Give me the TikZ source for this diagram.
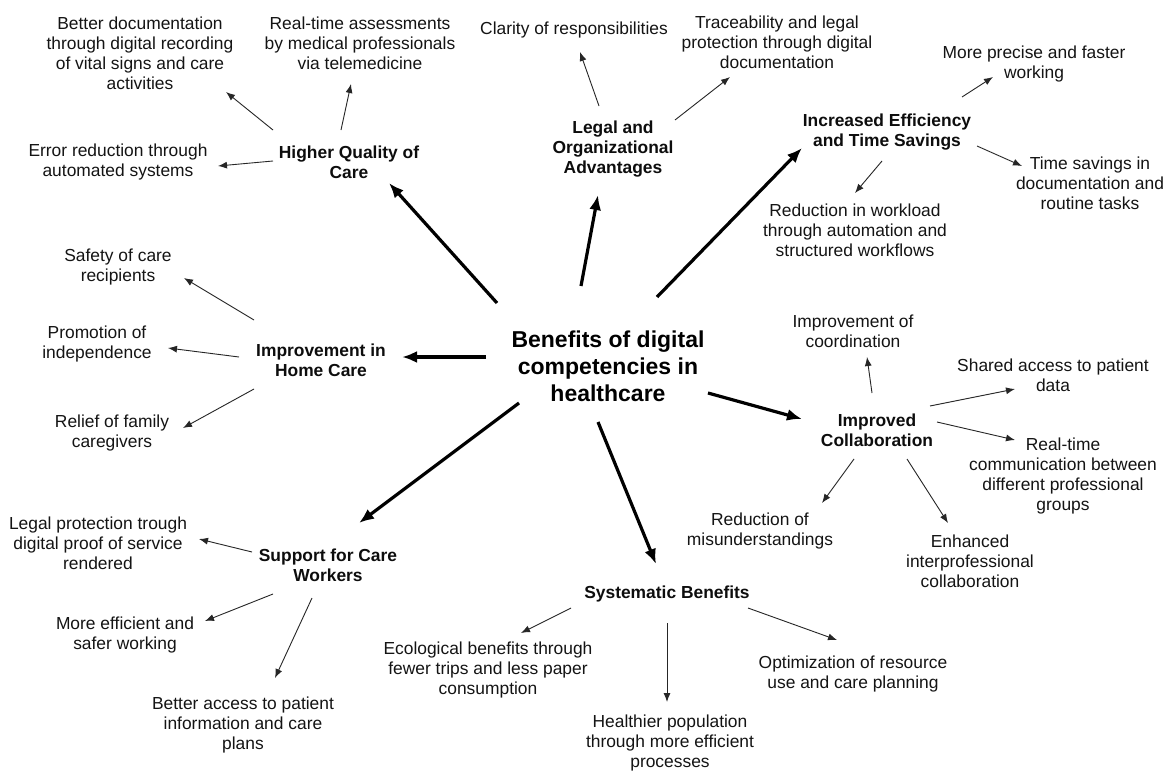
\documentclass[tikz,border=0pt]{standalone}
\usepackage{fontspec}
\setmainfont{Liberation Sans}
\usetikzlibrary{arrows.meta}
\begin{document}
\begin{tikzpicture}[x=1pt,y=-1pt,
  leaf/.style={font=\fontsize{17.4}{20}\selectfont, align=center, inner sep=0pt, text=black!92},
  cat/.style={font=\fontsize{17.4}{20}\selectfont\bfseries, align=center, inner sep=0pt, text=black!95},
  hub/.style={font=\fontsize{23}{27}\selectfont\bfseries, align=center, inner sep=0pt},
  thinarr/.style={line width=0.9pt, draw=black!85, -{Latex[length=9pt,width=7pt]}},
  thickarr/.style={line width=3.2pt, -{Latex[length=15pt,width=12pt]}}]
\useasboundingbox[fill=white] (0,0) rectangle (1171,771);

% hub
\node[hub] (C) at (608,366) {Benefits of digital\\competencies in\\healthcare};

% categories
\node[cat] (HQ) at (349,162) {Higher Quality of\\Care};
\node[cat] (LO) at (613,149) {Legal and\\Organizational\\Advantages};
\node[cat] (IE) at (887,132) {Increased Efficiency\\and Time Savings};
\node[cat] (HC) at (321,360) {Improvement in\\Home Care};
\node[cat] (IC) at (877,430) {Improved\\Collaboration};
\node[cat] (SW) at (328,565) {Support for Care\\Workers};
\node[cat] (SB) at (667,594) {Systematic Benefits};

% leaves
\node[leaf] (BD) at (140,53) {Better documentation\\through digital recording\\of vital signs and care\\activities};
\node[leaf] (RT) at (360,43) {Real-time assessments\\by medical professionals\\via telemedicine};
\node[leaf] (ER) at (118,162) {Error reduction through\\automated systems};
\node[leaf] (CR) at (574,30) {Clarity of responsibilities};
\node[leaf] (TR) at (777,42) {Traceability and legal\\protection through digital\\documentation};
\node[leaf] (MP) at (1034,64) {More precise and faster\\working};
\node[leaf] (TS) at (1090,183) {Time savings in\\documentation and\\routine tasks};
\node[leaf] (RW) at (855,230) {Reduction in workload\\through automation and\\structured workflows};
\node[leaf] (CO) at (853,331) {Improvement of\\coordination};
\node[leaf] (SA) at (1053,375) {Shared access to patient\\data};
\node[leaf] (RC) at (1063,476) {Real-time\\communication between\\different professional\\groups};
\node[leaf] (RM) at (760,531) {Reduction of\\misunderstandings};
\node[leaf] (EN) at (970,561) {Enhanced\\interprofessional\\collaboration};
\node[leaf] (EC) at (488,670) {Ecological benefits through\\fewer trips and less paper\\consumption};
\node[leaf] (HP) at (670,743) {Healthier population\\through more efficient\\processes};
\node[leaf] (OP) at (853,674) {Optimization of resource\\use and care planning};
\node[leaf] (LP) at (98,543) {Legal protection trough\\digital proof of service\\rendered};
\node[leaf] (ME) at (125,635) {More efficient and\\safer working};
\node[leaf] (BA) at (243,725) {Better access to patient\\information and care\\plans};
\node[leaf] (SF) at (118,267) {Safety of care\\recipients};
\node[leaf] (PI) at (97,344) {Promotion of\\independence};
\node[leaf] (RF) at (112,433) {Relief of family\\caregivers};

% main connectors
\draw[thickarr] ([shift={(-111,-63)}]C.center) -- ([shift={(40,21)}]HQ.center);
\draw[thickarr] ([shift={(-27,-80)}]C.center) -- ([shift={(-15,46)}]LO.center);
\draw[thickarr] ([shift={(49,-69)}]C.center) -- ([shift={(-85,16)}]IE.center);
\draw[thickarr] ([shift={(-122,-9)}]C.center) -- ([shift={(81,-3)}]HC.center);
\draw[thickarr] ([shift={(-89,37)}]C.center) -- ([shift={(31,-42)}]SW.center);
\draw[thickarr] ([shift={(-10,56)}]C.center) -- ([shift={(-11,-30)}]SB.center);
\draw[thickarr] ([shift={(100,27)}]C.center) -- ([shift={(-75,-11)}]IC.center);

% Higher Quality of Care
\draw[thinarr] ([shift={(-76,-32)}]HQ.center) -- ([shift={(86,39)}]BD.center);
\draw[thinarr] ([shift={(-8,-32)}]HQ.center) -- ([shift={(-9,41)}]RT.center);
\draw[thinarr] ([shift={(-76,-1)}]HQ.center) -- ([shift={(100,4)}]ER.center);
% Legal and Organizational
\draw[thinarr] ([shift={(-14,-43)}]LO.center) -- ([shift={(6,22)}]CR.center);
\draw[thinarr] ([shift={(62,-29)}]LO.center) -- ([shift={(-47,35)}]TR.center);
% Increased Efficiency
\draw[thinarr] ([shift={(75,-35)}]IE.center) -- ([shift={(-41,13)}]MP.center);
\draw[thinarr] ([shift={(90,14)}]IE.center) -- ([shift={(-68,-17)}]TS.center);
\draw[thinarr] ([shift={(-5,29)}]IE.center) -- ([shift={(0,-37)}]RW.center);
% Improved Collaboration
\draw[thinarr] ([shift={(-5,-37)}]IC.center) -- ([shift={(14,26)}]CO.center);
\draw[thinarr] ([shift={(53,-24)}]IC.center) -- ([shift={(-38,14)}]SA.center);
\draw[thinarr] ([shift={(60,-8)}]IC.center) -- ([shift={(-48,-36)}]RC.center);
\draw[thinarr] ([shift={(-23,29)}]IC.center) -- ([shift={(62,-28)}]RM.center);
\draw[thinarr] ([shift={(30,29)}]IC.center) -- ([shift={(-22,-38)}]EN.center);
% Systematic Benefits
\draw[thinarr] ([shift={(-96,14)}]SB.center) -- ([shift={(33,-37)}]EC.center);
\draw[thinarr] ([shift={(0,29)}]SB.center) -- ([shift={(-3,-41)}]HP.center);
\draw[thinarr] ([shift={(81,14)}]SB.center) -- ([shift={(-16,-34)}]OP.center);
% Support for Care Workers
\draw[thinarr] ([shift={(-76,-13)}]SW.center) -- ([shift={(101,-4)}]LP.center);
\draw[thinarr] ([shift={(-55,29)}]SW.center) -- ([shift={(80,-14)}]ME.center);
\draw[thinarr] ([shift={(-16,33)}]SW.center) -- ([shift={(32,-47)}]BA.center);
% Improvement in Home Care
\draw[thinarr] ([shift={(-67,-40)}]HC.center) -- ([shift={(66,11)}]SF.center);
\draw[thinarr] ([shift={(-82,-3)}]HC.center) -- ([shift={(71,4)}]PI.center);
\draw[thinarr] ([shift={(-67,29)}]HC.center) -- ([shift={(71,-5)}]RF.center);
\end{tikzpicture}
\end{document}
